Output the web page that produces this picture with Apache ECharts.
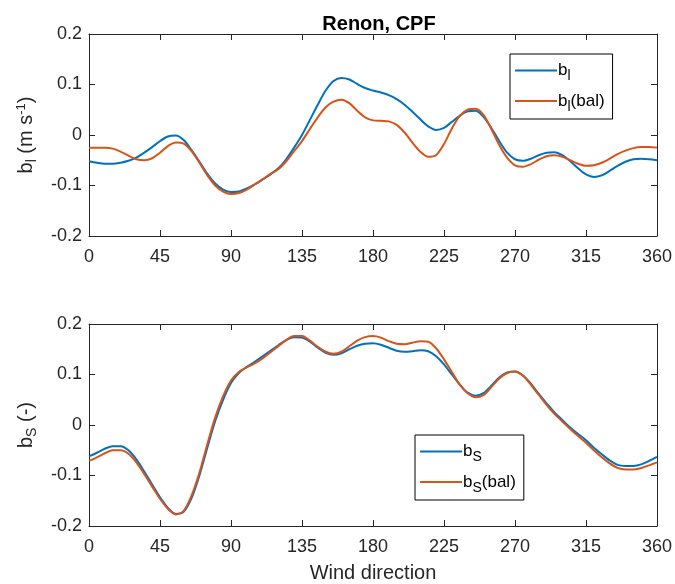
<!DOCTYPE html>
<html>
<head>
<meta charset="utf-8">
<script src="https://cdn.jsdelivr.net/npm/echarts@6/dist/echarts.min.js"></script>
<style>
  html, body { margin: 0; padding: 0; background: #fff; }
  #chart { width: 675px; height: 584px; }
</style>
</head>
<body>
<div id="chart"></div>
<script>
// wind direction (deg), every 5 degrees
var dirs = [0,5,10,15,20,25,30,35,40,45,50,55,60,65,70,75,80,85,90,95,100,105,110,115,120,125,130,135,140,145,150,155,160,165,170,175,180,185,190,195,200,205,210,215,220,225,230,235,240,245,250,255,260,265,270,275,280,285,290,295,300,305,310,315,320,325,330,335,340,345,350,355,360];

// top panel: b_l (m s-1)
var bl = [-0.052,-0.055,-0.057,-0.057,-0.055,-0.051,-0.045,-0.035,-0.024,-0.012,-0.003,-0.001,-0.01,-0.03,-0.053,-0.077,-0.096,-0.108,-0.113,-0.112,-0.106,-0.098,-0.088,-0.078,-0.066,-0.048,-0.025,0.0,0.03,0.06,0.088,0.107,0.113,0.11,0.101,0.093,0.088,0.084,0.079,0.071,0.06,0.046,0.031,0.017,0.01,0.014,0.026,0.038,0.047,0.048,0.036,0.014,-0.012,-0.035,-0.048,-0.051,-0.047,-0.04,-0.035,-0.034,-0.04,-0.052,-0.066,-0.078,-0.083,-0.08,-0.071,-0.061,-0.053,-0.048,-0.047,-0.048,-0.05];
var blBal = [-0.025,-0.025,-0.025,-0.027,-0.033,-0.041,-0.048,-0.05,-0.046,-0.035,-0.022,-0.015,-0.017,-0.032,-0.055,-0.08,-0.1,-0.112,-0.117,-0.115,-0.108,-0.098,-0.088,-0.077,-0.068,-0.052,-0.032,-0.012,0.012,0.035,0.055,0.066,0.07,0.063,0.048,0.035,0.029,0.028,0.027,0.02,0.005,-0.015,-0.033,-0.043,-0.04,-0.018,0.013,0.038,0.05,0.052,0.04,0.012,-0.02,-0.045,-0.06,-0.063,-0.058,-0.049,-0.042,-0.04,-0.043,-0.05,-0.057,-0.061,-0.06,-0.055,-0.047,-0.038,-0.031,-0.026,-0.024,-0.024,-0.025];

// bottom panel: b_S (-)
var bs = [-0.062,-0.055,-0.047,-0.042,-0.042,-0.05,-0.068,-0.092,-0.118,-0.143,-0.164,-0.176,-0.172,-0.145,-0.1,-0.045,0.008,0.05,0.083,0.103,0.115,0.125,0.136,0.147,0.158,0.168,0.174,0.173,0.165,0.153,0.143,0.139,0.142,0.15,0.157,0.161,0.162,0.159,0.153,0.147,0.145,0.146,0.148,0.146,0.136,0.12,0.1,0.08,0.064,0.058,0.063,0.078,0.094,0.104,0.106,0.098,0.082,0.062,0.043,0.025,0.01,-0.005,-0.018,-0.03,-0.045,-0.058,-0.07,-0.079,-0.081,-0.081,-0.078,-0.071,-0.063];
var bsBal = [-0.071,-0.064,-0.056,-0.05,-0.05,-0.057,-0.074,-0.097,-0.122,-0.146,-0.166,-0.177,-0.17,-0.14,-0.094,-0.038,0.015,0.057,0.088,0.105,0.114,0.122,0.132,0.144,0.156,0.168,0.176,0.176,0.167,0.155,0.145,0.141,0.145,0.156,0.167,0.174,0.176,0.173,0.166,0.161,0.16,0.163,0.166,0.165,0.152,0.13,0.105,0.08,0.063,0.055,0.059,0.075,0.092,0.103,0.106,0.098,0.08,0.06,0.04,0.022,0.007,-0.008,-0.022,-0.035,-0.05,-0.064,-0.076,-0.085,-0.088,-0.088,-0.085,-0.08,-0.074];

var BLUE = '#0072BD', ORANGE = '#D95319', INK = '#262626';
var FONT = 'Liberation Sans, Arial, sans-serif';

function pairs(ys) { return dirs.map(function (d, i) { return [d, ys[i]]; }); }

var rich = {
  n: { fontSize: 20, color: INK, fontFamily: FONT },
  sub: { fontSize: 14, color: INK, fontFamily: FONT, padding: [11, 0, 0, 0] },
  sup: { fontSize: 13, color: INK, fontFamily: FONT, padding: [0, 0, 11, 0] }
};
var legRich = {
  n: { fontSize: 17, color: '#000', fontFamily: FONT },
  sub: { fontSize: 14, color: '#000', fontFamily: FONT, padding: [12, 0, 0, 0] }
};

var chart = echarts.init(document.getElementById('chart'));

function xAxes(gi) {
  return [{
    type: 'value', gridIndex: gi, min: 0, max: 360, interval: 45,
    axisLine: { show: true, onZero: false, lineStyle: { color: INK, width: 1 } },
    axisTick: { show: true, inside: true, length: 6, lineStyle: { color: INK } },
    axisLabel: { fontSize: 18, color: INK, fontFamily: FONT, margin: 12 },
    splitLine: { show: false },
    name: gi === 1 ? 'Wind direction' : '', nameLocation: 'middle', nameGap: 37,
    nameTextStyle: { fontSize: 20, color: INK, fontFamily: FONT }
  }, {
    type: 'value', gridIndex: gi, min: 0, max: 360, interval: 45, position: 'top',
    axisLine: { show: true, onZero: false, lineStyle: { color: INK, width: 1 } },
    axisTick: { show: true, inside: true, length: 6, lineStyle: { color: INK } },
    axisLabel: { show: false }, splitLine: { show: false }
  }];
}
function yAxes(gi, nameRich) {
  return [{
    type: 'value', gridIndex: gi, min: -0.2, max: 0.2, interval: 0.1,
    axisLine: { show: true, onZero: false, lineStyle: { color: INK, width: 1 } },
    axisTick: { show: true, inside: true, length: 6, lineStyle: { color: INK } },
    axisLabel: { fontSize: 18, color: INK, fontFamily: FONT, margin: 7 },
    splitLine: { show: false },
    name: nameRich, nameLocation: 'middle', nameRotate: 90, nameGap: 50,
    nameTextStyle: { rich: rich }
  }, {
    type: 'value', gridIndex: gi, min: -0.2, max: 0.2, interval: 0.1, position: 'right',
    axisLine: { show: true, onZero: false, lineStyle: { color: INK, width: 1 } },
    axisTick: { show: true, inside: true, length: 6, lineStyle: { color: INK } },
    axisLabel: { show: false }, splitLine: { show: false }
  }];
}

var legendNames = {
  'bl': '{n|b}{sub|l}',
  'bl(bal)': '{n|b}{sub|l}{n|(bal)}',
  'bS': '{n|b}{sub|S}',
  'bS(bal)': '{n|b}{sub|S}{n|(bal)}'
};
function legendFmt(name) { return legendNames[name]; }

function legend(names, left, top) {
  return {
    data: names, orient: 'vertical', left: left, top: top,
    icon: 'rect', itemWidth: 42, itemHeight: 2, itemGap: 9,
    borderColor: '#000', borderWidth: 1, padding: [8, 8, 5, 5],
    formatter: legendFmt, textStyle: { rich: legRich, padding: [0, 0, 0, -4] }
  };
}

function line(name, xi, yi, ys, color) {
  return {
    name: name, type: 'line', xAxisIndex: xi, yAxisIndex: yi,
    data: pairs(ys), smooth: 0.3, symbol: 'none', animation: false,
    lineStyle: { color: color, width: 2 }, itemStyle: { color: color }
  };
}

chart.setOption({
  backgroundColor: '#fff',
  animation: false,
  title: {
    text: 'Renon, CPF', left: 374, top: 9, textAlign: 'center',
    textStyle: { fontSize: 20, fontWeight: 'bold', color: '#000', fontFamily: FONT }
  },
  grid: [
    { left: 89, top: 34, width: 570, height: 202 },
    { left: 89, top: 324, width: 570, height: 202 }
  ],
  xAxis: xAxes(0).concat(xAxes(1)),
  yAxis: yAxes(0, '{n|b}{sub|l}{n| (m s}{sup|-1}{n|)}').concat(yAxes(1, '{n|b}{sub|S}{n| (-)}')),
  legend: [legend(['bl', 'bl(bal)'], 510, 54), legend(['bS', 'bS(bal)'], 415, 435)],
  series: [
    line('bl', 0, 0, bl, BLUE),
    line('bl(bal)', 0, 0, blBal, ORANGE),
    line('bS', 2, 2, bs, BLUE),
    line('bS(bal)', 2, 2, bsBal, ORANGE)
  ]
});
</script>
</body>
</html>
